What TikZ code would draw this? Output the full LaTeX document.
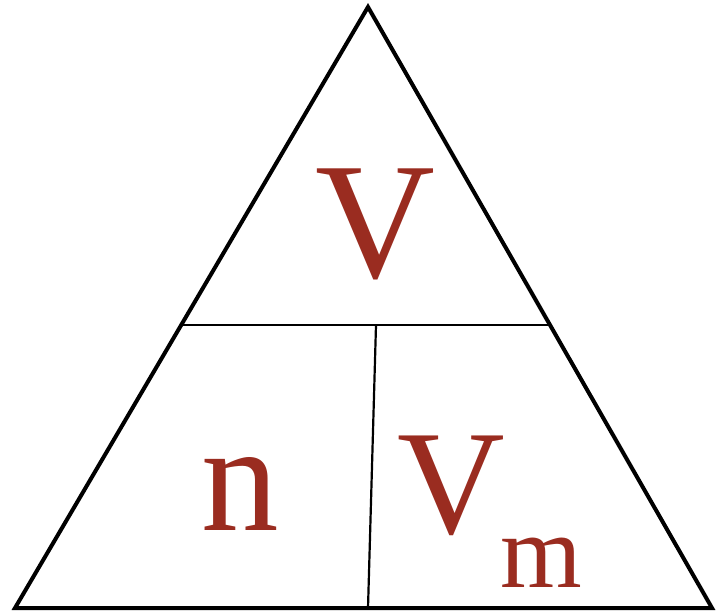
\documentclass[tikz,border=0pt]{standalone}
\usepackage{fontspec}
\setmainfont{Liberation Serif}
\usetikzlibrary{calc}
\definecolor{formulaRed}{RGB}{154,44,32}
\begin{document}
\begin{tikzpicture}
% formula triangle V = n * Vm
\def\unitsz{1pt}
\providecommand{\triOuterWidth}{4pt}
\providecommand{\triInnerWidth}{2.2pt}
\tikzset{
  letter/.style={text=formulaRed, anchor=base, inner sep=0pt},
}
\begin{scope}[x=\unitsz, y=-\unitsz, line cap=butt, line join=miter]
  % Page frame
  \useasboundingbox (0,0) rectangle (717,613);
  % Corners of the triangle
  \coordinate (apex) at (368,7);
  \coordinate (left) at (15,608);
  \coordinate (right) at (712,608);
  % Dividing lines
  \coordinate (midL) at ($(apex)!0.5291!(left)$);
  \coordinate (midR) at ($(apex)!0.5291!(right)$);
  \coordinate (splitT) at (376,325);
  \coordinate (splitB) at (368,608);
  % Outline
  \draw[line width=\triOuterWidth] (apex) -- (left) -- (right) -- cycle;
  % Inner lines
  \begin{scope}[draw=black, line width=\triInnerWidth]
    \draw (midL) -- (midR);
    \draw (splitT) -- (splitB);
  \end{scope}
  % Letters
  \node[letter, font=\fontsize{166}{166}\selectfont] (vol) at (375,277) {V};
  \node[letter, font=\fontsize{155}{155}\selectfont] (amount) at (240,530) {n};
  \node[letter, font=\fontsize{149}{149}\selectfont] (molvol) at (451,533) {V};
  \node[letter, font=\fontsize{105}{105}\selectfont] (molsub) at (541,587) {m};
\end{scope}
\end{tikzpicture}
\end{document}
